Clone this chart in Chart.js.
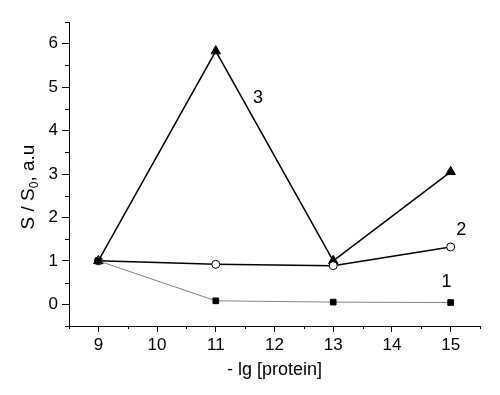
<!DOCTYPE html>
<html>
<head>
<meta charset="utf-8">
<script src="https://cdn.jsdelivr.net/npm/chart.js@4/dist/chart.umd.min.js"></script>
<style>
  html, body { margin: 0; padding: 0; background: #fff; }
  #wrap { width: 500px; height: 395px; }
</style>
</head>
<body>
<div id="wrap"><canvas id="chart"></canvas></div>
<script>
// data
const xValues = [9, 11, 13, 15];
const series1 = [1.0, 0.08, 0.05, 0.04];
const series2 = [1.0, 0.92, 0.89, 1.32];
const series3 = [1.0, 5.83, 1.0, 3.05];
const xTicks = [9, 10, 11, 12, 13, 14, 15];
const yTicks = [0, 1, 2, 3, 4, 5, 6];
const seriesNames = ['1', '2', '3'];
const nameAnchors = [[14.93, 0.52], [15.18, 1.72], [11.72, 4.74]];

const FONT = '"Liberation Sans", Arial, sans-serif';

function toPoints(ys) {
    return xValues.map((x, i) => ({ x: x, y: ys[i] }));
}

// minor ticks, axis titles and curve numbers
const decorations = {
    id: 'decorations',
    afterDraw(chart) {
        const ctx = chart.ctx;
        const x = chart.scales.x;
        const y = chart.scales.y;
        const area = chart.chartArea;
        ctx.save();
        ctx.strokeStyle = '#000';
        ctx.lineWidth = 1;
        ctx.beginPath();
        for (let v = x.min; v <= x.max + 1e-9; v += 1) {
            const px = Math.round(x.getPixelForValue(v)) + 0.5;
            ctx.moveTo(px, area.bottom);
            ctx.lineTo(px, area.bottom + 3);
        }
        for (let v = y.min; v <= y.max + 1e-9; v += 1) {
            const py = Math.round(y.getPixelForValue(v)) + 0.5;
            ctx.moveTo(area.left, py);
            ctx.lineTo(area.left - 4, py);
        }
        ctx.stroke();

        ctx.fillStyle = '#000';
        ctx.font = '18px ' + FONT;
        ctx.textAlign = 'center';
        ctx.textBaseline = 'middle';
        ctx.fillText('- lg [protein]', (area.left + area.right) / 2, 370);

        // y title with subscript
        ctx.translate(27, 187);
        ctx.rotate(-Math.PI / 2);
        const a = 'S / S', b = '0', c = ', a.u';
        const small = '12px ' + FONT;
        const big = '19px ' + FONT;
        ctx.font = big;
        const wa = ctx.measureText(a).width;
        const wc = ctx.measureText(c).width;
        ctx.font = small;
        const wb = ctx.measureText(b).width;
        let start = -(wa + wb + wc) / 2;
        ctx.textAlign = 'left';
        ctx.textBaseline = 'alphabetic';
        ctx.font = big;
        ctx.fillText(a, start, 7);
        ctx.font = small;
        ctx.fillText(b, start + wa, 11);
        ctx.font = big;
        ctx.fillText(c, start + wa + wb, 7);
        ctx.setTransform(1, 0, 0, 1, 0, 0);

        ctx.font = '18px ' + FONT;
        ctx.textAlign = 'center';
        ctx.textBaseline = 'middle';
        seriesNames.forEach((n, i) => {
            ctx.fillText(n, x.getPixelForValue(nameAnchors[i][0]), y.getPixelForValue(nameAnchors[i][1]));
        });
        ctx.restore();
    }
};

new Chart(document.getElementById('chart'), {
    type: 'line',
    data: {
        datasets: [
            {
                data: toPoints(series1),
                borderColor: '#808080',
                borderWidth: 1,
                pointStyle: 'rect',
                pointRadius: 4,
                pointBackgroundColor: '#000',
                pointBorderColor: '#000',
                pointBorderWidth: 1
            },
            {
                data: toPoints(series2),
                borderColor: '#000',
                borderWidth: 1.5,
                pointStyle: 'circle',
                pointRadius: 4,
                pointBackgroundColor: '#fff',
                pointBorderColor: '#000',
                pointBorderWidth: 1
            },
            {
                data: toPoints(series3),
                borderColor: '#000',
                borderWidth: 1.5,
                pointStyle: 'triangle',
                pointRadius: 5.5,
                pointBackgroundColor: '#000',
                pointBorderColor: '#000',
                pointBorderWidth: 1
            }
        ]
    },
    options: {
        responsive: true,
        maintainAspectRatio: false,
        animation: false,
        layout: { padding: { top: 22, right: 20, left: 0, bottom: 0 } },
        plugins: {
            legend: { display: false },
            tooltip: { enabled: false }
        },
        scales: {
            x: {
                type: 'linear',
                min: 8.5,
                max: 15.5,
                afterBuildTicks: s => { s.ticks = xTicks.map(v => ({ value: v })); },
                afterFit: s => { s.height = 69; },
                border: { color: '#000', width: 1 },
                grid: { drawOnChartArea: false, tickLength: 6, tickColor: '#000' },
                ticks: { color: '#000', padding: 3, font: { family: FONT, size: 17 } }
            },
            y: {
                min: -0.5,
                max: 6.5,
                afterBuildTicks: s => { s.ticks = yTicks.map(v => ({ value: v })); },
                afterFit: s => { s.width = 69; },
                border: { color: '#000', width: 1 },
                grid: { drawOnChartArea: false, tickLength: 7, tickColor: '#000' },
                ticks: { color: '#000', padding: 4, font: { family: FONT, size: 17 } }
            }
        }
    },
    plugins: [decorations]
});
</script>
</body>
</html>
